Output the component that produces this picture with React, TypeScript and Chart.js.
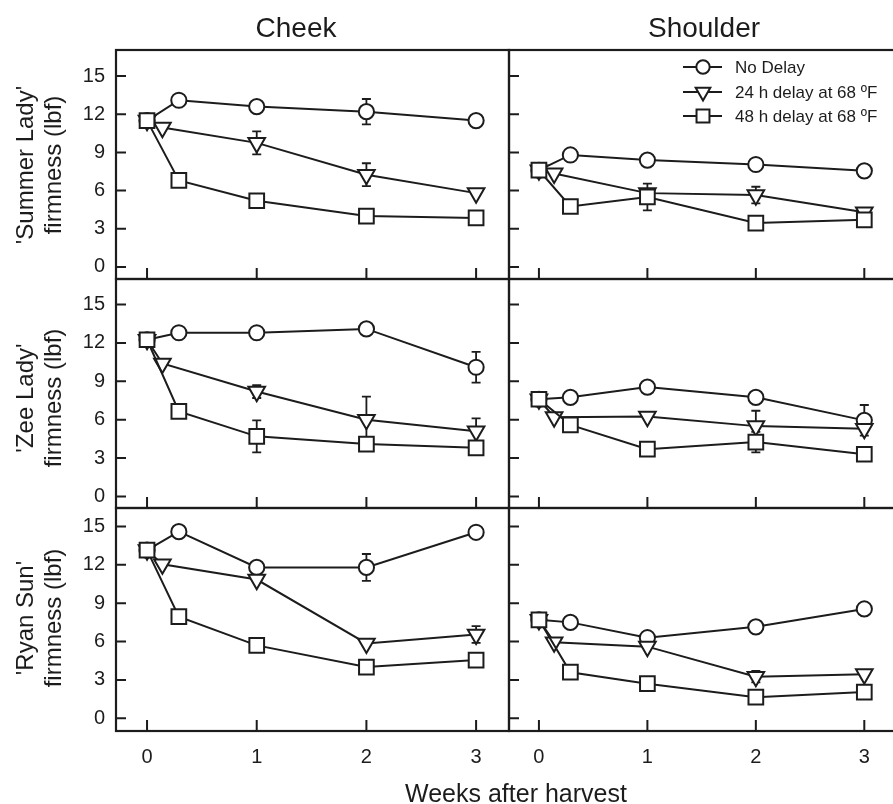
import React, { useEffect, useRef } from "react";
import { Chart, registerables } from "chart.js";

Chart.register(...registerables);

// ---------------- data ----------------
const weeksNoDelay = [0, 0.29, 1, 2, 3];
const weeks24h = [0, 0.14, 1, 2, 3];
const weeks48h = [0, 0.29, 1, 2, 3];

const seriesLabels = ["No Delay", "24 h delay at 68 ºF", "48 h delay at 68 ºF"];
const yTickValues = [0, 3, 6, 9, 12, 15];
const xTickValues = [0, 1, 2, 3];
const columnTitles = ["Cheek", "Shoulder"];
const cultivarLabels = ["'Summer Lady'", "'Zee Lady'", "'Ryan Sun'"];
const yUnitLabel = "firmness (lbf)";
const xAxisTitle = "Weeks after harvest";

// 'Summer Lady'
const summerLadyCheekNoDelay = [11.5, 13.1, 12.6, 12.2, 11.5];
const summerLadyCheekNoDelayErr = [null, null, null, 1.0, null];
const summerLadyCheek24h = [11.5, 10.95, 9.75, 7.25, 5.8];
const summerLadyCheek24hErr = [null, null, 0.9, 0.9, null];
const summerLadyCheek48h = [11.5, 6.8, 5.2, 4.0, 3.85];
const summerLadyCheek48hErr = [null, null, null, null, null];

const summerLadyShoulderNoDelay = [7.6, 8.8, 8.4, 8.05, 7.55];
const summerLadyShoulderNoDelayErr = [null, null, null, null, null];
const summerLadyShoulder24h = [7.6, 7.35, 5.8, 5.65, 4.3];
const summerLadyShoulder24hErr = [null, null, null, 0.65, null];
const summerLadyShoulder48h = [7.6, 4.75, 5.5, 3.45, 3.7];
const summerLadyShoulder48hErr = [null, null, 1.05, null, null];

// 'Zee Lady'
const zeeLadyCheekNoDelay = [12.25, 12.8, 12.8, 13.1, 10.1];
const zeeLadyCheekNoDelayErr = [null, null, null, null, 1.2];
const zeeLadyCheek24h = [12.25, 10.4, 8.2, 6.0, 5.1];
const zeeLadyCheek24hErr = [null, null, 0.5, 1.8, 1.0];
const zeeLadyCheek48h = [12.25, 6.65, 4.7, 4.1, 3.8];
const zeeLadyCheek48hErr = [null, null, 1.25, null, null];

const zeeLadyShoulderNoDelay = [7.6, 7.75, 8.55, 7.75, 5.95];
const zeeLadyShoulderNoDelayErr = [null, null, null, null, 1.2];
const zeeLadyShoulder24h = [7.6, 6.2, 6.25, 5.5, 5.3];
const zeeLadyShoulder24hErr = [null, null, null, 1.2, null];
const zeeLadyShoulder48h = [7.6, 5.6, 3.7, 4.25, 3.3];
const zeeLadyShoulder48hErr = [null, null, null, 0.8, null];

// 'Ryan Sun'
const ryanSunCheekNoDelay = [13.15, 14.6, 11.8, 11.8, 14.55];
const ryanSunCheekNoDelayErr = [null, null, null, 1.05, null];
const ryanSunCheek24h = [13.15, 12.05, 10.85, 5.85, 6.55];
const ryanSunCheek24hErr = [null, null, null, null, 0.65];
const ryanSunCheek48h = [13.15, 7.95, 5.7, 4.0, 4.55];
const ryanSunCheek48hErr = [null, null, null, null, null];

const ryanSunShoulderNoDelay = [7.7, 7.5, 6.3, 7.15, 8.55];
const ryanSunShoulderNoDelayErr = [null, null, null, null, null];
const ryanSunShoulder24h = [7.7, 5.95, 5.6, 3.25, 3.45];
const ryanSunShoulder24hErr = [null, null, null, 0.45, null];
const ryanSunShoulder48h = [7.7, 3.6, 2.7, 1.65, 2.05];
const ryanSunShoulder48hErr = [null, null, null, null, null];

// ---------------- layout / style ----------------
const W = 910;
const H = 804;
const FONT = "'Liberation Sans', Arial, Helvetica, sans-serif";
const INK = "#1c1c1c";

const rowLayout = [
  { top: 50, bottom: 279, min: -0.95, max: 17.05 },
  { top: 279, bottom: 508, min: -0.9, max: 17.0 },
  { top: 508, bottom: 731, min: -1.0, max: 16.45 },
];
const colLayout = [
  { left: 116, right: 509, min: -0.283, max: 3.3 },
  { left: 509, right: 902, min: -0.276, max: 3.307 },
];

const seriesStyles = [
  { pointStyle: "circle", radius: 7.6, rotation: 0, order: 2 },
  { pointStyle: "triangle", radius: 9.6, rotation: 180, order: 1 },
  { pointStyle: "rect", radius: 10.4, rotation: 0, order: 0 },
];

const panels = [
  { row: 0, col: 0, series: [[summerLadyCheekNoDelay, summerLadyCheekNoDelayErr], [summerLadyCheek24h, summerLadyCheek24hErr], [summerLadyCheek48h, summerLadyCheek48hErr]] },
  { row: 0, col: 1, series: [[summerLadyShoulderNoDelay, summerLadyShoulderNoDelayErr], [summerLadyShoulder24h, summerLadyShoulder24hErr], [summerLadyShoulder48h, summerLadyShoulder48hErr]], legend: true },
  { row: 1, col: 0, series: [[zeeLadyCheekNoDelay, zeeLadyCheekNoDelayErr], [zeeLadyCheek24h, zeeLadyCheek24hErr], [zeeLadyCheek48h, zeeLadyCheek48hErr]] },
  { row: 1, col: 1, series: [[zeeLadyShoulderNoDelay, zeeLadyShoulderNoDelayErr], [zeeLadyShoulder24h, zeeLadyShoulder24hErr], [zeeLadyShoulder48h, zeeLadyShoulder48hErr]] },
  { row: 2, col: 0, series: [[ryanSunCheekNoDelay, ryanSunCheekNoDelayErr], [ryanSunCheek24h, ryanSunCheek24hErr], [ryanSunCheek48h, ryanSunCheek48hErr]] },
  { row: 2, col: 1, series: [[ryanSunShoulderNoDelay, ryanSunShoulderNoDelayErr], [ryanSunShoulder24h, ryanSunShoulder24hErr], [ryanSunShoulder48h, ryanSunShoulder48hErr]] },
];

const seriesWeeks = [weeksNoDelay, weeks24h, weeks48h];

function drawMarker(ctx, style, x, y, r, rotation) {
  ctx.beginPath();
  if (style === "circle") {
    ctx.arc(x, y, r, 0, Math.PI * 2);
  } else if (style === "triangle") {
    let rad = (rotation * Math.PI) / 180;
    for (let k = 0; k < 3; k++) {
      const px = x + Math.sin(rad) * r;
      const py = y - Math.cos(rad) * r;
      if (k === 0) ctx.moveTo(px, py);
      else ctx.lineTo(px, py);
      rad += (2 * Math.PI) / 3;
    }
  } else {
    const s = r * Math.SQRT1_2;
    ctx.rect(x - s, y - s, 2 * s, 2 * s);
  }
  ctx.closePath();
  ctx.fillStyle = "#ffffff";
  ctx.fill();
  ctx.stroke();
}

const decorPlugin = {
  id: "panelDecor",
  beforeDatasetsDraw(chart) {
    const { ctx, chartArea: a } = chart;
    const xs = chart.scales.x;
    const ys = chart.scales.y;
    ctx.save();
    ctx.strokeStyle = INK;
    ctx.lineCap = "butt";
    // error bars (under markers)
    ctx.lineWidth = 1.8;
    chart.data.datasets.forEach((ds) => {
      (ds.errors || []).forEach((e, i) => {
        if (e == null) return;
        const pt = ds.data[i];
        const px = xs.getPixelForValue(pt.x);
        const top = ys.getPixelForValue(pt.y + e);
        const bot = ys.getPixelForValue(pt.y - e);
        ctx.beginPath();
        ctx.moveTo(px, top);
        ctx.lineTo(px, bot);
        ctx.moveTo(px - 4.5, top);
        ctx.lineTo(px + 4.5, top);
        ctx.moveTo(px - 4.5, bot);
        ctx.lineTo(px + 4.5, bot);
        ctx.stroke();
      });
    });
    // frame
    ctx.lineWidth = 2.2;
    ctx.strokeRect(a.left, a.top, a.right - a.left, a.bottom - a.top);
    // inward tick marks
    ctx.lineWidth = 2;
    ctx.beginPath();
    yTickValues.forEach((v) => {
      const py = ys.getPixelForValue(v);
      ctx.moveTo(a.left, py);
      ctx.lineTo(a.left + 10, py);
    });
    xTickValues.forEach((v) => {
      const px = xs.getPixelForValue(v);
      ctx.moveTo(px, a.bottom);
      ctx.lineTo(px, a.bottom - 11);
    });
    ctx.stroke();
    ctx.restore();
  },
};

const legendPlugin = {
  id: "insetLegend",
  afterDatasetsDraw(chart, _args, opts) {
    if (!opts || !opts.show) return;
    const { ctx, chartArea: a } = chart;
    ctx.save();
    ctx.strokeStyle = INK;
    ctx.lineWidth = 2;
    ctx.font = `17px ${FONT}`;
    ctx.textBaseline = "middle";
    ctx.textAlign = "left";
    const rowsY = [17, 42, 66];
    seriesLabels.forEach((label, i) => {
      const y = a.top + rowsY[i];
      const x0 = a.left + 174;
      const x1 = a.left + 213;
      const xm = a.left + 194;
      ctx.beginPath();
      ctx.moveTo(x0, y);
      ctx.lineTo(x1, y);
      ctx.stroke();
      const st = seriesStyles[i];
      drawMarker(ctx, st.pointStyle, xm, y, st.radius * 0.88, st.rotation);
      ctx.fillStyle = INK;
      ctx.fillText(label, a.left + 226, y + 1);
    });
    ctx.restore();
  },
};

function Panel({ panel }) {
  const ref = useRef(null);
  useEffect(() => {
    const row = rowLayout[panel.row];
    const col = colLayout[panel.col];
    const showY = panel.col === 0;
    const showX = panel.row === 2;
    const datasets = panel.series.map(([vals, errs], i) => {
      const st = seriesStyles[i];
      return {
        label: seriesLabels[i],
        data: seriesWeeks[i].map((x, k) => ({ x, y: vals[k] })),
        errors: errs,
        order: st.order,
        borderColor: INK,
        borderWidth: 2,
        backgroundColor: "#ffffff",
        pointStyle: st.pointStyle,
        pointRotation: st.rotation,
        pointRadius: st.radius,
        pointBorderWidth: 2,
        pointBorderColor: INK,
        pointBackgroundColor: "#ffffff",
        tension: 0,
        fill: false,
      };
    });
    const chart = new Chart(ref.current, {
      type: "line",
      data: { datasets },
      plugins: [decorPlugin, legendPlugin],
      options: {
        animation: false,
        responsive: false,
        events: [],
        layout: { padding: { top: row.top, right: W - col.right, left: 0, bottom: 0 } },
        plugins: {
          legend: { display: false },
          tooltip: { enabled: false },
          insetLegend: { show: !!panel.legend },
        },
        scales: {
          x: {
            type: "linear",
            position: "bottom",
            min: col.min,
            max: col.max,
            afterBuildTicks: (s) => {
              s.ticks = xTickValues.map((v) => ({ value: v }));
            },
            afterFit: (s) => {
              s.height = H - row.bottom;
            },
            grid: { display: false, drawTicks: false },
            border: { display: false },
            ticks: {
              display: showX,
              padding: 14,
              color: INK,
              font: { size: 20, family: FONT },
              maxRotation: 0,
              autoSkip: false,
              callback: (v) => String(v),
            },
          },
          y: {
            type: "linear",
            position: "left",
            min: row.min,
            max: row.max,
            afterBuildTicks: (s) => {
              s.ticks = yTickValues.map((v) => ({ value: v }));
            },
            afterFit: (s) => {
              s.width = col.left;
            },
            grid: { display: false, drawTicks: false },
            border: { display: false },
            ticks: {
              display: showY,
              padding: 11,
              color: INK,
              font: { size: 20, family: FONT },
              autoSkip: false,
              callback: (v) => String(v),
            },
          },
        },
      },
    });
    return () => chart.destroy();
  }, []);
  return (
    <canvas
      ref={ref}
      width={W}
      height={H}
      style={{ position: "absolute", left: 0, top: 0, width: W, height: H }}
    />
  );
}

const textBase = {
  position: "absolute",
  whiteSpace: "nowrap",
  color: INK,
  fontFamily: FONT,
  lineHeight: 1,
  transform: "translate(-50%, -50%)",
};

export default function App() {
  const rowCenters = [165, 398, 618];
  return (
    <div
      style={{
        position: "absolute",
        left: 0,
        top: 0,
        width: 893,
        height: 804,
        overflow: "hidden",
        background: "#ffffff",
      }}
    >
      {panels.map((p, i) => (
        <Panel key={i} panel={p} />
      ))}
      <div style={{ ...textBase, left: 296, top: 28, fontSize: 28 }}>{columnTitles[0]}</div>
      <div style={{ ...textBase, left: 704, top: 28, fontSize: 28 }}>{columnTitles[1]}</div>
      {cultivarLabels.map((c, i) => (
        <div
          key={c}
          style={{
            ...textBase,
            left: 39,
            top: rowCenters[i],
            fontSize: 24,
            lineHeight: "28px",
            textAlign: "center",
            transform: "translate(-50%, -50%) rotate(-90deg)",
          }}
        >
          <div>{c}</div>
          <div>{yUnitLabel}</div>
        </div>
      ))}
      <div style={{ ...textBase, left: 516, top: 793, fontSize: 25 }}>{xAxisTitle}</div>
    </div>
  );
}
